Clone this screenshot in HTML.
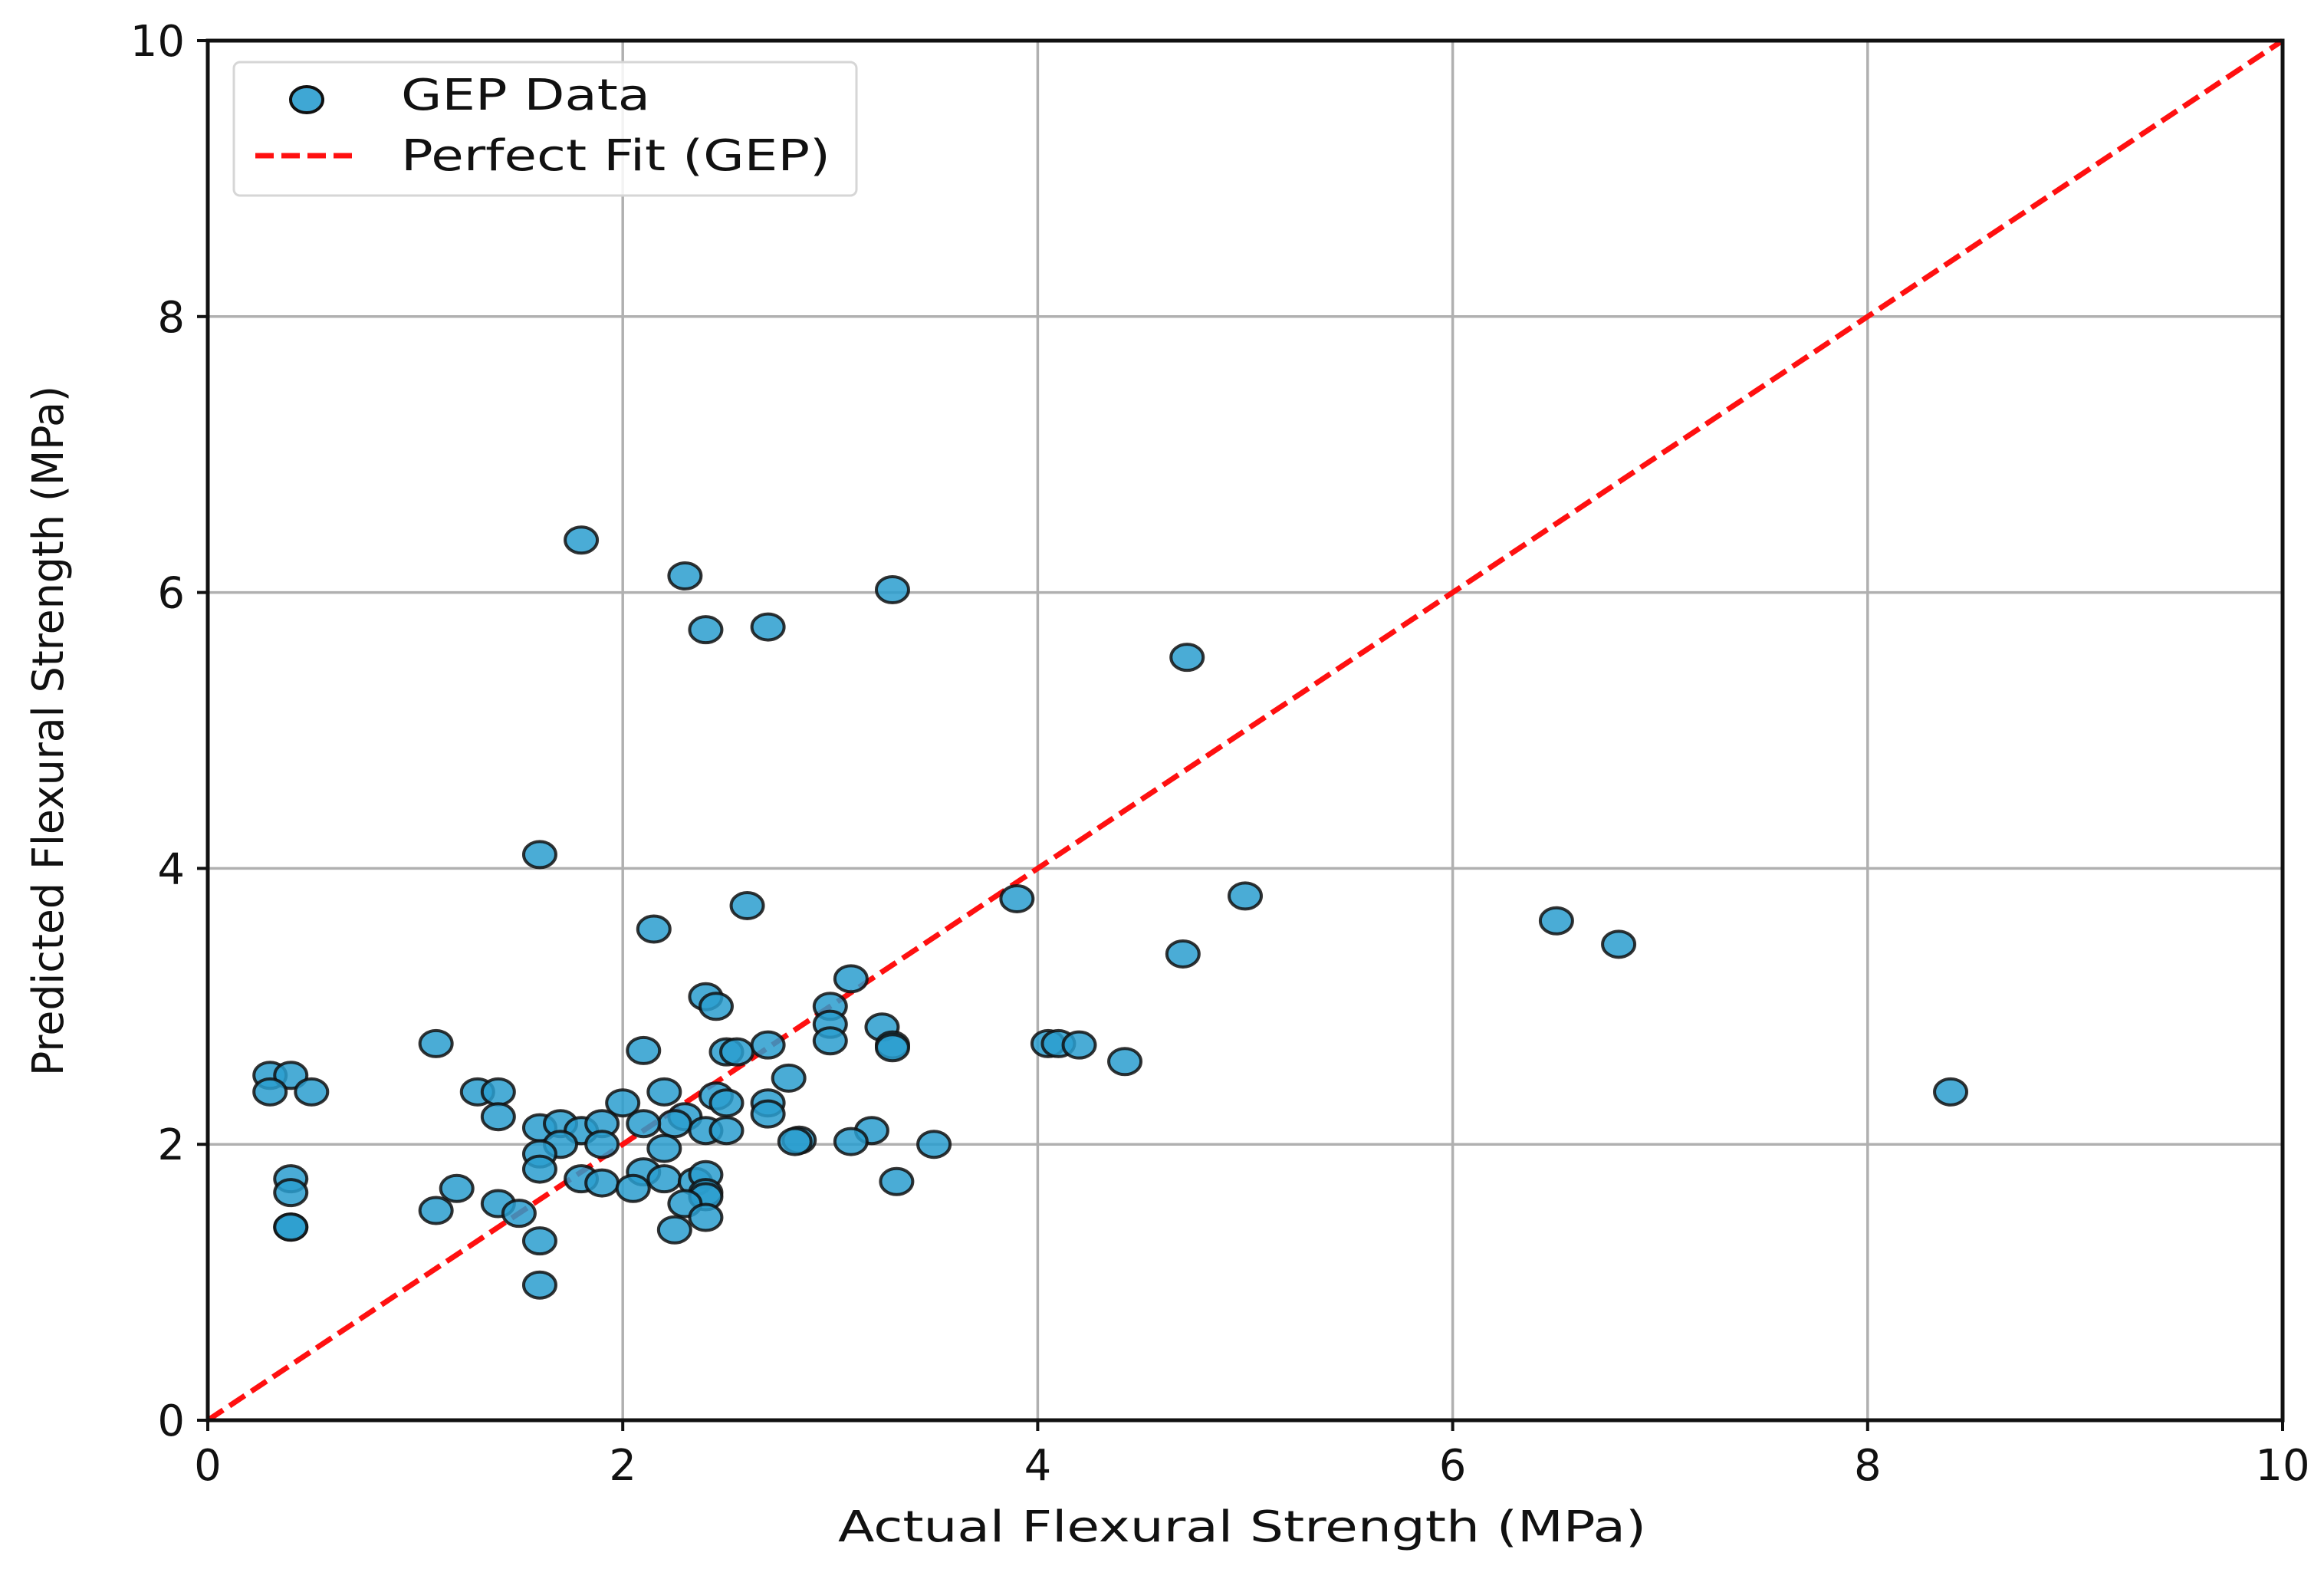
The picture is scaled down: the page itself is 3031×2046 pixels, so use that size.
<!DOCTYPE html>
<html><head><meta charset="utf-8"><style>
html,body{margin:0;padding:0;background:#fff}
svg{display:block}
text{font-family:"DejaVu Sans","Liberation Sans",sans-serif;fill:#111}
</style></head><body>
<svg id="chart" width="3031" height="2046" viewBox="0 0 3031 2046">
<g id="grid"></g>
<g id="fit"></g>
<g id="pts"></g>
<g id="axes"></g>
<g>
<rect x="305" y="81" width="812" height="174" rx="8" fill="#fff" fill-opacity="0.85" stroke="#d6d6d6" stroke-width="3"/>
<ellipse cx="400" cy="130" rx="21" ry="17" fill="#2a9dcf" fill-opacity="0.9" stroke="#111" stroke-width="4"/>
<text x="523" y="143" font-size="56" textLength="325" lengthAdjust="spacingAndGlyphs">GEP Data</text>
<line x1="333" y1="203" x2="468" y2="203" stroke="#ff1010" stroke-width="7" stroke-dasharray="24,10"/>
<text x="523" y="222" font-size="56" textLength="560" lengthAdjust="spacingAndGlyphs">Perfect Fit (GEP)</text>
</g>
<text x="1620" y="2010" font-size="56" text-anchor="middle" textLength="1054" lengthAdjust="spacingAndGlyphs">Actual Flexural Strength (MPa)</text>
<text transform="translate(82,953) rotate(-90)" font-size="56" text-anchor="middle" textLength="900" lengthAdjust="spacingAndGlyphs">Predicted Flexural Strength (MPa)</text>
</svg>
<script>
const xs=[1.8,2.3,3.3,2.4,2.7,4.72,1.6,2.6,2.15,3.9,5.0,6.5,6.8,4.7,3.1,2.4,2.45,3.0,3.0,3.0,3.25,3.3,3.3,4.05,4.1,4.2,4.42,8.4,1.1,2.1,2.5,2.55,2.7,2.8,0.3,0.4,0.3,0.5,1.3,1.4,1.4,2.2,2.45,2.5,2.7,2.7,2.0,2.3,2.25,2.1,1.6,1.7,1.8,1.9,2.4,2.5,3.2,3.1,3.5,2.85,2.83,1.7,1.9,2.2,1.6,1.6,2.1,2.2,2.35,2.4,1.8,1.9,2.05,2.4,2.4,2.3,3.32,0.4,0.4,1.2,1.1,1.4,1.5,1.6,2.25,2.4,0.4,0.4,1.6];
const ys=[6.38,6.12,6.02,5.73,5.75,5.53,4.1,3.73,3.56,3.78,3.8,3.62,3.45,3.38,3.2,3.07,3.0,3.0,2.87,2.75,2.85,2.72,2.7,2.73,2.73,2.72,2.6,2.38,2.73,2.68,2.67,2.67,2.72,2.48,2.5,2.5,2.38,2.38,2.38,2.38,2.2,2.38,2.35,2.3,2.3,2.22,2.3,2.2,2.15,2.15,2.12,2.15,2.1,2.15,2.1,2.1,2.1,2.02,2.0,2.03,2.02,2.0,2.0,1.97,1.93,1.82,1.8,1.75,1.73,1.78,1.75,1.72,1.68,1.65,1.62,1.57,1.73,1.75,1.65,1.68,1.52,1.57,1.5,1.3,1.38,1.47,1.4,1.4,0.98];
const ticks=[0,2,4,6,8,10];
const fitLine=[0,10];
const X0=271,X1=2977,Y0=1852,Y1=53;
const sx=v=>X0+(v-0)/10*(X1-X0);
const sy=v=>Y0-(v-0)/10*(Y0-Y1);
const NS="http://www.w3.org/2000/svg";
function mk(tag,attrs,parent){const e=document.createElementNS(NS,tag);for(const k in attrs)e.setAttribute(k,attrs[k]);parent.appendChild(e);return e;}
const grid=document.getElementById('grid'),axes=document.getElementById('axes');
ticks.forEach(t=>{
  let g=mk('line',{x1:sx(t),x2:sx(t),y1:Y0,y2:Y1,stroke:'#b0b0b0','stroke-width':3.5},grid);
  
  
  g=mk('line',{x1:X0,x2:X1,y1:sy(t),y2:sy(t),stroke:'#b0b0b0','stroke-width':3.5},grid);
  
  
  let tk=mk('line',{x1:sx(t),x2:sx(t),y1:Y0,y2:Y0+14,stroke:'#111','stroke-width':4},axes);
  
  
  tk=mk('line',{x1:X0-14,x2:X0,y1:sy(t),y2:sy(t),stroke:'#111','stroke-width':4},axes);
  
  
  let tx=mk('text',{x:sx(t),y:Y0+78,'font-size':56,'text-anchor':'middle'},axes);
  tx.textContent=t;
  
  
  tx=mk('text',{x:X0-30,y:sy(t)+20,'font-size':56,'text-anchor':'end'},axes);
  tx.textContent=t;
  
  
});
const fl=mk('line',{x1:sx(fitLine[0]),y1:sy(fitLine[0]),x2:sx(fitLine[1]),y2:sy(fitLine[1]),stroke:'#ff1010','stroke-width':7,'stroke-dasharray':'24,10'},document.getElementById('fit'));


const pts=document.getElementById('pts');
xs.forEach((x,i)=>{
  const c=mk('ellipse',{cx:sx(x),cy:sy(ys[i]),rx:21,ry:17,fill:'#2a9dcf','fill-opacity':0.85,stroke:'#111','stroke-opacity':0.85,'stroke-width':4},pts);
  
  
});
const fr=mk('rect',{x:X0,y:Y1,width:X1-X0,height:Y0-Y1,fill:'none',stroke:'#111','stroke-width':5},axes);


</script>
</body></html>
